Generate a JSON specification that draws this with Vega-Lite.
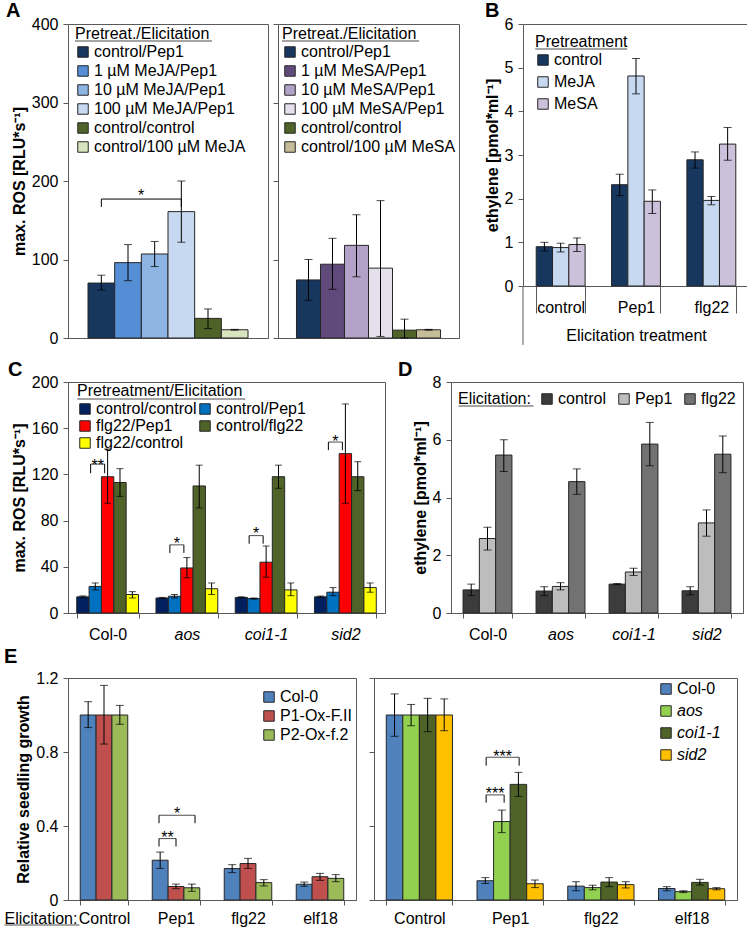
{
 "$schema": "https://vega.github.io/schema/vega-lite/v6.json",
 "autosize": {"type": "pad"},
 "padding": {"left": 3, "top": 0, "right": 0, "bottom": 0},
 "spacing": 0,
 "resolve": {"scale": {"fill": "independent"}, "legend": {"fill": "independent"}},
 "datasets": {
  "z": [{"a": 0}],
  "aL": [
   {"s": "control/Pep1", "v": 70, "lo": 61, "hi": 80},
   {"s": "1 µM MeJA/Pep1", "v": 96, "lo": 73, "hi": 119},
   {"s": "10 µM MeJA/Pep1", "v": 107, "lo": 91, "hi": 123},
   {"s": "100 µM MeJA/Pep1", "v": 161, "lo": 122, "hi": 200},
   {"s": "control/control", "v": 25, "lo": 12, "hi": 37},
   {"s": "control/100 µM MeJA", "v": 10.5, "lo": 10, "hi": 11}
  ],
  "aLb": [
   {"s": "control/Pep1", "y": 167, "o": 1},
   {"s": "control/Pep1", "y": 177, "o": 2},
   {"s": "100 µM MeJA/Pep1", "y": 177, "o": 3},
   {"s": "100 µM MeJA/Pep1", "y": 167, "o": 4}
  ],
  "aLs": [{"s": "1 µM MeJA/Pep1", "y": 174, "t": "*"}],
  "aR": [
   {"s": "control/Pep1", "v": 74, "lo": 48, "hi": 100},
   {"s": "1 µM MeSA/Pep1", "v": 94, "lo": 62, "hi": 127},
   {"s": "10 µM MeSA/Pep1", "v": 118, "lo": 78, "hi": 157},
   {"s": "100 µM MeSA/Pep1", "v": 89, "lo": 2, "hi": 175},
   {"s": "control/control", "v": 10, "lo": 0, "hi": 24},
   {"s": "control/100 µM MeSA", "v": 10.5, "lo": 10, "hi": 11}
  ],
  "b": [
   {"g": "control", "s": "control", "v": 0.9, "lo": 0.8, "hi": 1.0},
   {"g": "control", "s": "MeJA", "v": 0.88, "lo": 0.78, "hi": 0.98},
   {"g": "control", "s": "MeSA", "v": 0.95, "lo": 0.79, "hi": 1.1},
   {"g": "Pep1", "s": "control", "v": 2.32, "lo": 2.07, "hi": 2.56},
   {"g": "Pep1", "s": "MeJA", "v": 4.81, "lo": 4.4, "hi": 5.21},
   {"g": "Pep1", "s": "MeSA", "v": 1.94, "lo": 1.66, "hi": 2.2},
   {"g": "flg22", "s": "control", "v": 2.89, "lo": 2.7, "hi": 3.07},
   {"g": "flg22", "s": "MeJA", "v": 1.96, "lo": 1.86, "hi": 2.05},
   {"g": "flg22", "s": "MeSA", "v": 3.25, "lo": 2.88, "hi": 3.63}
  ],
  "c": [
   {"g": "Col-0", "s": "control/control", "v": 14, "lo": 13.2, "hi": 14.8},
   {"g": "Col-0", "s": "control/Pep1", "v": 23, "lo": 20, "hi": 26},
   {"g": "Col-0", "s": "flg22/Pep1", "v": 118, "lo": 95, "hi": 142},
   {"g": "Col-0", "s": "control/flg22", "v": 113, "lo": 101, "hi": 125},
   {"g": "Col-0", "s": "flg22/control", "v": 16, "lo": 13, "hi": 18.5},
   {"g": "aos", "s": "control/control", "v": 13, "lo": 12.5, "hi": 13.5},
   {"g": "aos", "s": "control/Pep1", "v": 14.5, "lo": 13, "hi": 16},
   {"g": "aos", "s": "flg22/Pep1", "v": 39, "lo": 30.5, "hi": 48},
   {"g": "aos", "s": "control/flg22", "v": 110, "lo": 91, "hi": 128},
   {"g": "aos", "s": "flg22/control", "v": 21, "lo": 16, "hi": 26},
   {"g": "coi1-1", "s": "control/control", "v": 13.5, "lo": 13, "hi": 14},
   {"g": "coi1-1", "s": "control/Pep1", "v": 12.5, "lo": 12, "hi": 13},
   {"g": "coi1-1", "s": "flg22/Pep1", "v": 44, "lo": 31, "hi": 58},
   {"g": "coi1-1", "s": "control/flg22", "v": 118, "lo": 108, "hi": 128},
   {"g": "coi1-1", "s": "flg22/control", "v": 20, "lo": 15, "hi": 26},
   {"g": "sid2", "s": "control/control", "v": 14, "lo": 13.3, "hi": 14.7},
   {"g": "sid2", "s": "control/Pep1", "v": 18, "lo": 15, "hi": 22},
   {"g": "sid2", "s": "flg22/Pep1", "v": 138, "lo": 95, "hi": 181},
   {"g": "sid2", "s": "control/flg22", "v": 118, "lo": 106, "hi": 131},
   {"g": "sid2", "s": "flg22/control", "v": 22, "lo": 18, "hi": 26}
  ],
  "cb": [
   {"g": "Col-0", "top": 129, "bot": 121, "ts": 123, "t": "**"},
   {"g": "aos", "top": 59, "bot": 52, "ts": 55.5, "t": "*"},
   {"g": "coi1-1", "top": 67, "bot": 60, "ts": 64.4, "t": "*"},
   {"g": "sid2", "top": 148, "bot": 141, "ts": 144, "t": "*"}
  ],
  "d": [
   {"g": "Col-0", "s": "control", "v": 0.8, "lo": 0.6, "hi": 1.0},
   {"g": "Col-0", "s": "Pep1", "v": 2.58, "lo": 2.18, "hi": 2.97},
   {"g": "Col-0", "s": "flg22", "v": 5.47, "lo": 4.9, "hi": 6.0},
   {"g": "aos", "s": "control", "v": 0.76, "lo": 0.6, "hi": 0.91},
   {"g": "aos", "s": "Pep1", "v": 0.92, "lo": 0.8, "hi": 1.05},
   {"g": "aos", "s": "flg22", "v": 4.55, "lo": 4.11, "hi": 4.99},
   {"g": "coi1-1", "s": "control", "v": 1.0, "lo": 0.98, "hi": 1.02},
   {"g": "coi1-1", "s": "Pep1", "v": 1.42, "lo": 1.3, "hi": 1.55},
   {"g": "coi1-1", "s": "flg22", "v": 5.85, "lo": 5.1, "hi": 6.6},
   {"g": "sid2", "s": "control", "v": 0.77, "lo": 0.63, "hi": 0.91},
   {"g": "sid2", "s": "Pep1", "v": 3.12, "lo": 2.66, "hi": 3.57},
   {"g": "sid2", "s": "flg22", "v": 5.5, "lo": 4.86, "hi": 6.13}
  ],
  "el": [
   {"g": "Control", "s": "Col-0", "v": 1.0, "lo": 0.932, "hi": 1.072},
   {"g": "Control", "s": "P1-Ox-F.II", "v": 1.0, "lo": 0.843, "hi": 1.16},
   {"g": "Control", "s": "P2-Ox-f.2", "v": 1.0, "lo": 0.95, "hi": 1.052},
   {"g": "Pep1", "s": "Col-0", "v": 0.215, "lo": 0.171, "hi": 0.259},
   {"g": "Pep1", "s": "P1-Ox-F.II", "v": 0.073, "lo": 0.061, "hi": 0.086},
   {"g": "Pep1", "s": "P2-Ox-f.2", "v": 0.066, "lo": 0.047, "hi": 0.086},
   {"g": "flg22", "s": "Col-0", "v": 0.17, "lo": 0.148, "hi": 0.191},
   {"g": "flg22", "s": "P1-Ox-F.II", "v": 0.197, "lo": 0.171, "hi": 0.225},
   {"g": "flg22", "s": "P2-Ox-f.2", "v": 0.094, "lo": 0.076, "hi": 0.11},
   {"g": "elf18", "s": "Col-0", "v": 0.085, "lo": 0.074, "hi": 0.097},
   {"g": "elf18", "s": "P1-Ox-F.II", "v": 0.126, "lo": 0.106, "hi": 0.144},
   {"g": "elf18", "s": "P2-Ox-f.2", "v": 0.117, "lo": 0.099, "hi": 0.137}
  ],
  "elb1": [{"g": "Pep1", "top": 0.332, "bot": 0.289, "ts": 0.306, "t": "**"}],
  "elb2": [{"g": "Pep1", "top": 0.458, "bot": 0.415, "ts": 0.438, "t": "*"}],
  "er": [
   {"g": "Control", "s": "Col-0", "v": 1.0, "lo": 0.885, "hi": 1.114},
   {"g": "Control", "s": "aos", "v": 1.0, "lo": 0.942, "hi": 1.057},
   {"g": "Control", "s": "coi1-1", "v": 1.0, "lo": 0.91, "hi": 1.09},
   {"g": "Control", "s": "sid2", "v": 1.0, "lo": 0.915, "hi": 1.087},
   {"g": "Pep1", "s": "Col-0", "v": 0.104, "lo": 0.089, "hi": 0.121},
   {"g": "Pep1", "s": "aos", "v": 0.424, "lo": 0.364, "hi": 0.486},
   {"g": "Pep1", "s": "coi1-1", "v": 0.625, "lo": 0.56, "hi": 0.69},
   {"g": "Pep1", "s": "sid2", "v": 0.088, "lo": 0.067, "hi": 0.108},
   {"g": "flg22", "s": "Col-0", "v": 0.075, "lo": 0.05, "hi": 0.099},
   {"g": "flg22", "s": "aos", "v": 0.067, "lo": 0.055, "hi": 0.08},
   {"g": "flg22", "s": "coi1-1", "v": 0.097, "lo": 0.072, "hi": 0.121},
   {"g": "flg22", "s": "sid2", "v": 0.083, "lo": 0.065, "hi": 0.099},
   {"g": "elf18", "s": "Col-0", "v": 0.062, "lo": 0.05, "hi": 0.072},
   {"g": "elf18", "s": "aos", "v": 0.045, "lo": 0.04, "hi": 0.05},
   {"g": "elf18", "s": "coi1-1", "v": 0.095, "lo": 0.081, "hi": 0.112},
   {"g": "elf18", "s": "sid2", "v": 0.061, "lo": 0.055, "hi": 0.067}
  ],
  "erb1": [{"g": "Pep1", "top": 0.568, "bot": 0.526, "ts": 0.546, "t": "***"}],
  "erb2": [{"g": "Pep1", "top": 0.771, "bot": 0.726, "ts": 0.744, "t": "***"}]
 },
 "vconcat": [
  {
   "bounds": "flush", "spacing": 0,
   "resolve": {"scale": {"fill": "independent"}, "legend": {"fill": "independent"}},
   "hconcat": [
    {
     "width": 200, "height": 314,
     "title": {"text": "A", "dx": -62, "offset": -5},
     "encoding": {"x": {"field": "s", "type": "nominal", "scale": {"type": "band", "domain": ["control/Pep1", "1 µM MeJA/Pep1", "10 µM MeJA/Pep1", "100 µM MeJA/Pep1", "control/control", "control/100 µM MeJA"], "paddingInner": 0, "paddingOuter": 0.75}, "axis": {"labels": false, "ticks": false, "title": null}}},
     "layer": [
      {"data": {"name": "aL"}, "mark": {"type": "bar", "stroke": "#262626", "strokeWidth": 1},
       "encoding": {
        "y": {"field": "v", "type": "quantitative", "scale": {"domain": [0, 400], "nice": false}, "axis": {"values": [0, 100, 200, 300, 400], "title": "max. ROS [RLU*s⁻¹]", "titlePadding": 4}},
        "fill": {"field": "s", "type": "nominal", "scale": {"domain": ["control/Pep1", "1 µM MeJA/Pep1", "10 µM MeJA/Pep1", "100 µM MeJA/Pep1", "control/control", "control/100 µM MeJA"], "range": ["#17375E", "#558ED5", "#8EB4E3", "#C6D9F1", "#4F6228", "#D7E4BD"]},
         "legend": {"title": "Pretreat./Elicitation", "orient": "none", "legendX": 7, "legendY": 2, "rowPadding": 3}}}},
      {"data": {"name": "aL"}, "mark": {"type": "rule", "color": "#000"}, "encoding": {"y": {"field": "lo", "type": "quantitative"}, "y2": {"field": "hi"}}},
      {"data": {"name": "aL"}, "transform": [{"fold": ["lo", "hi"], "as": ["k", "e"]}], "mark": {"type": "tick", "color": "#000", "size": 8, "thickness": 1}, "encoding": {"y": {"field": "e", "type": "quantitative"}}},
      {"data": {"name": "aLb"}, "mark": {"type": "line", "color": "#000", "strokeWidth": 1}, "encoding": {"y": {"field": "y", "type": "quantitative"}, "order": {"field": "o", "type": "quantitative"}}},
      {"data": {"name": "aLs"}, "mark": {"type": "text", "dx": 13, "fontSize": 16, "baseline": "alphabetic"}, "encoding": {"y": {"field": "y", "type": "quantitative"}, "text": {"field": "t"}}},
      {"data": {"name": "z"}, "mark": {"type": "tick", "color": "#000", "size": 137, "thickness": 1, "xOffset": -11.2}, "encoding": {"x": {"datum": "10 µM MeJA/Pep1"}, "y": {"datum": 378.3, "type": "quantitative", "scale": {"domain": [0, 400], "nice": false}}}}
     ]
    },
    {"width": 10, "height": 1, "data": {"name": "z"}, "mark": {"type": "point", "opacity": 0, "size": 1}, "encoding": {}, "view": {"stroke": null}},
    {
     "width": 181, "height": 314,
     "encoding": {"x": {"field": "s", "type": "nominal", "scale": {"type": "band", "domain": ["control/Pep1", "1 µM MeSA/Pep1", "10 µM MeSA/Pep1", "100 µM MeSA/Pep1", "control/control", "control/100 µM MeSA"], "paddingInner": 0, "paddingOuter": 0.77}, "axis": {"labels": false, "ticks": false, "title": null}}},
     "layer": [
      {"data": {"name": "aR"}, "mark": {"type": "bar", "stroke": "#262626", "strokeWidth": 1},
       "encoding": {
        "y": {"field": "v", "type": "quantitative", "scale": {"domain": [0, 400], "nice": false}, "axis": {"values": [0, 100, 200, 300, 400], "labels": false, "title": null}},
        "fill": {"field": "s", "type": "nominal", "scale": {"domain": ["control/Pep1", "1 µM MeSA/Pep1", "10 µM MeSA/Pep1", "100 µM MeSA/Pep1", "control/control", "control/100 µM MeSA"], "range": ["#17375E", "#604A7B", "#B3A2C7", "#E6E0EC", "#4F6228", "#C4BD97"]},
         "legend": {"title": "Pretreat./Elicitation", "orient": "none", "legendX": 4, "legendY": 2, "rowPadding": 3}}}},
      {"data": {"name": "aR"}, "mark": {"type": "rule", "color": "#000"}, "encoding": {"y": {"field": "lo", "type": "quantitative"}, "y2": {"field": "hi"}}},
      {"data": {"name": "aR"}, "transform": [{"fold": ["lo", "hi"], "as": ["k", "e"]}], "mark": {"type": "tick", "color": "#000", "size": 8, "thickness": 1}, "encoding": {"y": {"field": "e", "type": "quantitative"}}},
      {"data": {"name": "z"}, "mark": {"type": "tick", "color": "#000", "size": 137, "thickness": 1, "xOffset": -6}, "encoding": {"x": {"datum": "10 µM MeSA/Pep1"}, "y": {"datum": 378.3, "type": "quantitative", "scale": {"domain": [0, 400], "nice": false}}}}
     ]
    },
    {"width": 64, "height": 1, "data": {"name": "z"}, "mark": {"type": "point", "opacity": 0, "size": 1}, "encoding": {}, "view": {"stroke": null}},
    {
     "width": 226, "height": 262,
     "title": {"text": "B", "dx": -38, "offset": -5},
     "encoding": {
      "x": {"field": "g", "type": "nominal", "scale": {"type": "band", "domain": ["control", "Pep1", "flg22"], "paddingInner": 0.35, "paddingOuter": 0.175},
       "axis": {"title": "Elicitation treatment", "titleFontWeight": "normal", "tickBand": "extent", "tickSize": 27, "labelPadding": -14, "labelAngle": 0, "titleY": 49, "titleBaseline": "middle"}}
     },
     "layer": [
      {"data": {"name": "b"}, "transform": [{"filter": "datum.s == 'control'"}], "mark": {"type": "bar", "width": 16.3, "xOffset": -16.3, "stroke": "#262626", "strokeWidth": 1},
       "encoding": {
        "y": {"field": "v", "type": "quantitative", "scale": {"domain": [0, 6], "nice": false}, "axis": {"values": [0, 1, 2, 3, 4, 5, 6], "title": "ethylene [pmol*ml⁻¹]", "titlePadding": 4}},
        "fill": {"field": "s", "type": "nominal", "scale": {"domain": ["control", "MeJA", "MeSA"], "range": ["#17375E", "#C6D9F1", "#CCC1DA"]}, "legend": {"title": "Pretreatment", "orient": "none", "legendX": 12, "legendY": 10, "rowPadding": 6}}}},
      {"data": {"name": "b"}, "transform": [{"filter": "datum.s == 'MeJA'"}], "mark": {"type": "bar", "width": 16.3, "xOffset": 0, "stroke": "#262626", "strokeWidth": 1},
       "encoding": {"y": {"field": "v", "type": "quantitative"}, "fill": {"field": "s", "type": "nominal", "scale": {"domain": ["control", "MeJA", "MeSA"], "range": ["#17375E", "#C6D9F1", "#CCC1DA"]}, "legend": {"title": "Pretreatment", "orient": "none", "legendX": 12, "legendY": 10, "rowPadding": 6}}}},
      {"data": {"name": "b"}, "transform": [{"filter": "datum.s == 'MeSA'"}], "mark": {"type": "bar", "width": 16.3, "xOffset": 16.3, "stroke": "#262626", "strokeWidth": 1},
       "encoding": {"y": {"field": "v", "type": "quantitative"}, "fill": {"field": "s", "type": "nominal", "scale": {"domain": ["control", "MeJA", "MeSA"], "range": ["#17375E", "#C6D9F1", "#CCC1DA"]}, "legend": {"title": "Pretreatment", "orient": "none", "legendX": 12, "legendY": 10, "rowPadding": 6}}}},
      {"data": {"name": "b"}, "transform": [{"filter": "datum.s == 'control'"}], "mark": {"type": "rule", "color": "#000", "xOffset": -16.3}, "encoding": {"y": {"field": "lo", "type": "quantitative"}, "y2": {"field": "hi"}}},
      {"data": {"name": "b"}, "transform": [{"filter": "datum.s == 'MeJA'"}], "mark": {"type": "rule", "color": "#000", "xOffset": 0}, "encoding": {"y": {"field": "lo", "type": "quantitative"}, "y2": {"field": "hi"}}},
      {"data": {"name": "b"}, "transform": [{"filter": "datum.s == 'MeSA'"}], "mark": {"type": "rule", "color": "#000", "xOffset": 16.3}, "encoding": {"y": {"field": "lo", "type": "quantitative"}, "y2": {"field": "hi"}}},
      {"data": {"name": "b"}, "transform": [{"filter": "datum.s == 'control'"}, {"fold": ["lo", "hi"], "as": ["k", "e"]}], "mark": {"type": "tick", "color": "#000", "size": 8, "thickness": 1, "xOffset": -16.3}, "encoding": {"y": {"field": "e", "type": "quantitative"}}},
      {"data": {"name": "b"}, "transform": [{"filter": "datum.s == 'MeJA'"}, {"fold": ["lo", "hi"], "as": ["k", "e"]}], "mark": {"type": "tick", "color": "#000", "size": 8, "thickness": 1, "xOffset": 0}, "encoding": {"y": {"field": "e", "type": "quantitative"}}},
      {"data": {"name": "b"}, "transform": [{"filter": "datum.s == 'MeSA'"}, {"fold": ["lo", "hi"], "as": ["k", "e"]}], "mark": {"type": "tick", "color": "#000", "size": 8, "thickness": 1, "xOffset": 16.3}, "encoding": {"y": {"field": "e", "type": "quantitative"}}},
      {"data": {"name": "z"}, "mark": {"type": "tick", "color": "#000", "size": 92, "thickness": 1, "xOffset": 20.6}, "encoding": {"x": {"datum": "control"}, "y": {"datum": 5.43, "type": "quantitative", "scale": {"domain": [0, 6], "nice": false}}}},
      {"data": {"name": "z"}, "mark": {"type": "rule", "color": "#5a5a5a", "xOffset": -37.67}, "encoding": {"x": {"datum": "control"}, "y": {"datum": 0, "type": "quantitative", "scale": {"domain": [0, 6], "nice": false}}, "y2": {"datum": -1.35}}},
      {"data": {"name": "z"}, "mark": {"type": "rule", "color": "#5a5a5a", "xOffset": 37.67}, "encoding": {"x": {"datum": "flg22"}, "y": {"datum": 0, "type": "quantitative", "scale": {"domain": [0, 6], "nice": false}}, "y2": {"datum": -1.35}}}
     ]
    }
   ]
  },
  {"width": 1, "height": 12, "data": {"name": "z"}, "mark": {"type": "point", "opacity": 0, "size": 1}, "encoding": {}, "view": {"stroke": null}},
  {
   "bounds": "flush", "spacing": 0,
   "resolve": {"scale": {"fill": "independent"}, "legend": {"fill": "independent"}},
   "hconcat": [
    {
     "width": 317, "height": 231,
     "title": {"text": "C", "dx": -60, "offset": -6},
     "encoding": {
      "x": {"field": "g", "type": "nominal", "scale": {"type": "band", "domain": ["Col-0", "aos", "coi1-1", "sid2"], "paddingInner": 0.22, "paddingOuter": 0.11},
       "axis": {"title": null, "tickBand": "extent", "labelPadding": 8, "labelAngle": 0, "labelFontStyle": {"condition": {"test": "datum.value == 'Col-0'", "value": "normal"}, "value": "italic"}}}
     },
     "layer": [
      {"data": {"name": "c"}, "transform": [{"filter": "datum.s == 'control/control'"}], "mark": {"type": "bar", "width": 12.36, "xOffset": -24.72, "stroke": "#262626", "strokeWidth": 1},
       "encoding": {
        "y": {"field": "v", "type": "quantitative", "scale": {"domain": [0, 200], "nice": false}, "axis": {"values": [0, 40, 80, 120, 160, 200], "title": "max. ROS [RLU*s⁻¹]", "titlePadding": 4}},
        "fill": {"field": "s", "type": "nominal", "scale": {"domain": ["control/control", "flg22/Pep1", "flg22/control", "control/Pep1", "control/flg22"], "range": ["#002060", "#FF0000", "#FFFF00", "#0070C0", "#4F6228"]}, "legend": {"title": "Pretreatment/Elicitation", "orient": "none", "legendX": 9, "legendY": 1, "columns": 2, "columnPadding": -10, "rowPadding": 1}}}},
      {"data": {"name": "c"}, "transform": [{"filter": "datum.s == 'control/Pep1'"}], "mark": {"type": "bar", "width": 12.36, "xOffset": -12.36, "stroke": "#262626", "strokeWidth": 1},
       "encoding": {"y": {"field": "v", "type": "quantitative"}, "fill": {"field": "s", "type": "nominal", "scale": {"domain": ["control/control", "flg22/Pep1", "flg22/control", "control/Pep1", "control/flg22"], "range": ["#002060", "#FF0000", "#FFFF00", "#0070C0", "#4F6228"]}, "legend": {"title": "Pretreatment/Elicitation", "orient": "none", "legendX": 9, "legendY": 1, "columns": 2, "columnPadding": -10, "rowPadding": 1}}}},
      {"data": {"name": "c"}, "transform": [{"filter": "datum.s == 'flg22/Pep1'"}], "mark": {"type": "bar", "width": 12.36, "xOffset": 0, "stroke": "#262626", "strokeWidth": 1},
       "encoding": {"y": {"field": "v", "type": "quantitative"}, "fill": {"field": "s", "type": "nominal", "scale": {"domain": ["control/control", "flg22/Pep1", "flg22/control", "control/Pep1", "control/flg22"], "range": ["#002060", "#FF0000", "#FFFF00", "#0070C0", "#4F6228"]}, "legend": {"title": "Pretreatment/Elicitation", "orient": "none", "legendX": 9, "legendY": 1, "columns": 2, "columnPadding": -10, "rowPadding": 1}}}},
      {"data": {"name": "c"}, "transform": [{"filter": "datum.s == 'control/flg22'"}], "mark": {"type": "bar", "width": 12.36, "xOffset": 12.36, "stroke": "#262626", "strokeWidth": 1},
       "encoding": {"y": {"field": "v", "type": "quantitative"}, "fill": {"field": "s", "type": "nominal", "scale": {"domain": ["control/control", "flg22/Pep1", "flg22/control", "control/Pep1", "control/flg22"], "range": ["#002060", "#FF0000", "#FFFF00", "#0070C0", "#4F6228"]}, "legend": {"title": "Pretreatment/Elicitation", "orient": "none", "legendX": 9, "legendY": 1, "columns": 2, "columnPadding": -10, "rowPadding": 1}}}},
      {"data": {"name": "c"}, "transform": [{"filter": "datum.s == 'flg22/control'"}], "mark": {"type": "bar", "width": 12.36, "xOffset": 24.72, "stroke": "#262626", "strokeWidth": 1},
       "encoding": {"y": {"field": "v", "type": "quantitative"}, "fill": {"field": "s", "type": "nominal", "scale": {"domain": ["control/control", "flg22/Pep1", "flg22/control", "control/Pep1", "control/flg22"], "range": ["#002060", "#FF0000", "#FFFF00", "#0070C0", "#4F6228"]}, "legend": {"title": "Pretreatment/Elicitation", "orient": "none", "legendX": 9, "legendY": 1, "columns": 2, "columnPadding": -10, "rowPadding": 1}}}},
      {"data": {"name": "c"}, "transform": [{"filter": "datum.s == 'control/control'"}], "mark": {"type": "rule", "color": "#000", "xOffset": -24.72}, "encoding": {"y": {"field": "lo", "type": "quantitative"}, "y2": {"field": "hi"}}},
      {"data": {"name": "c"}, "transform": [{"filter": "datum.s == 'control/Pep1'"}], "mark": {"type": "rule", "color": "#000", "xOffset": -12.36}, "encoding": {"y": {"field": "lo", "type": "quantitative"}, "y2": {"field": "hi"}}},
      {"data": {"name": "c"}, "transform": [{"filter": "datum.s == 'flg22/Pep1'"}], "mark": {"type": "rule", "color": "#000", "xOffset": 0}, "encoding": {"y": {"field": "lo", "type": "quantitative"}, "y2": {"field": "hi"}}},
      {"data": {"name": "c"}, "transform": [{"filter": "datum.s == 'control/flg22'"}], "mark": {"type": "rule", "color": "#000", "xOffset": 12.36}, "encoding": {"y": {"field": "lo", "type": "quantitative"}, "y2": {"field": "hi"}}},
      {"data": {"name": "c"}, "transform": [{"filter": "datum.s == 'flg22/control'"}], "mark": {"type": "rule", "color": "#000", "xOffset": 24.72}, "encoding": {"y": {"field": "lo", "type": "quantitative"}, "y2": {"field": "hi"}}},
      {"data": {"name": "c"}, "transform": [{"filter": "datum.s == 'control/control'"}, {"fold": ["lo", "hi"], "as": ["k", "e"]}], "mark": {"type": "tick", "color": "#000", "size": 7, "thickness": 1, "xOffset": -24.72}, "encoding": {"y": {"field": "e", "type": "quantitative"}}},
      {"data": {"name": "c"}, "transform": [{"filter": "datum.s == 'control/Pep1'"}, {"fold": ["lo", "hi"], "as": ["k", "e"]}], "mark": {"type": "tick", "color": "#000", "size": 7, "thickness": 1, "xOffset": -12.36}, "encoding": {"y": {"field": "e", "type": "quantitative"}}},
      {"data": {"name": "c"}, "transform": [{"filter": "datum.s == 'flg22/Pep1'"}, {"fold": ["lo", "hi"], "as": ["k", "e"]}], "mark": {"type": "tick", "color": "#000", "size": 7, "thickness": 1, "xOffset": 0}, "encoding": {"y": {"field": "e", "type": "quantitative"}}},
      {"data": {"name": "c"}, "transform": [{"filter": "datum.s == 'control/flg22'"}, {"fold": ["lo", "hi"], "as": ["k", "e"]}], "mark": {"type": "tick", "color": "#000", "size": 7, "thickness": 1, "xOffset": 12.36}, "encoding": {"y": {"field": "e", "type": "quantitative"}}},
      {"data": {"name": "c"}, "transform": [{"filter": "datum.s == 'flg22/control'"}, {"fold": ["lo", "hi"], "as": ["k", "e"]}], "mark": {"type": "tick", "color": "#000", "size": 7, "thickness": 1, "xOffset": 24.72}, "encoding": {"y": {"field": "e", "type": "quantitative"}}},
      {"data": {"name": "cb"}, "mark": {"type": "tick", "color": "#000", "size": 14, "thickness": 1, "xOffset": -10}, "encoding": {"y": {"field": "top", "type": "quantitative"}}},
      {"data": {"name": "cb"}, "mark": {"type": "rule", "color": "#000", "xOffset": -17}, "encoding": {"y": {"field": "bot", "type": "quantitative"}, "y2": {"field": "top"}}},
      {"data": {"name": "cb"}, "mark": {"type": "rule", "color": "#000", "xOffset": -3}, "encoding": {"y": {"field": "bot", "type": "quantitative"}, "y2": {"field": "top"}}},
      {"data": {"name": "cb"}, "mark": {"type": "text", "dx": -10, "fontSize": 16, "baseline": "alphabetic"}, "encoding": {"y": {"field": "ts", "type": "quantitative"}, "text": {"field": "t"}}},
      {"data": {"name": "z"}, "mark": {"type": "tick", "color": "#000", "size": 168, "thickness": 1, "xOffset": -25.6}, "encoding": {"x": {"datum": "aos"}, "y": {"datum": 185.3, "type": "quantitative", "scale": {"domain": [0, 200], "nice": false}}}}
     ]
    },
    {"width": 66, "height": 1, "data": {"name": "z"}, "mark": {"type": "point", "opacity": 0, "size": 1}, "encoding": {}, "view": {"stroke": null}},
    {
     "width": 292, "height": 231,
     "title": {"text": "D", "dx": -53, "offset": -6},
     "encoding": {
      "x": {"field": "g", "type": "nominal", "scale": {"type": "band", "domain": ["Col-0", "aos", "coi1-1", "sid2"], "paddingInner": 0.33, "paddingOuter": 0.165},
       "axis": {"title": null, "tickBand": "extent", "labelPadding": 8, "labelAngle": 0, "labelFontStyle": {"condition": {"test": "datum.value == 'Col-0'", "value": "normal"}, "value": "italic"}}}
     },
     "layer": [
      {"data": {"name": "d"}, "transform": [{"filter": "datum.s == 'control'"}], "mark": {"type": "bar", "width": 16.3, "xOffset": -16.3, "stroke": "#262626", "strokeWidth": 1},
       "encoding": {
        "y": {"field": "v", "type": "quantitative", "scale": {"domain": [0, 8], "nice": false}, "axis": {"values": [0, 2, 4, 6, 8], "title": "ethylene [pmol*ml⁻¹]", "titlePadding": 4}},
        "fill": {"field": "s", "type": "nominal", "scale": {"domain": ["control", "Pep1", "flg22"], "range": ["#3C3C3C", "#BDBDBD", "#727272"]}, "legend": {"title": "Elicitation:", "orient": "none", "legendX": 7, "legendY": 9, "direction": "horizontal", "titleOrient": "left", "columnPadding": 9, "titlePadding": 8}}}},
      {"data": {"name": "d"}, "transform": [{"filter": "datum.s == 'Pep1'"}], "mark": {"type": "bar", "width": 16.3, "xOffset": 0, "stroke": "#262626", "strokeWidth": 1},
       "encoding": {"y": {"field": "v", "type": "quantitative"}, "fill": {"field": "s", "type": "nominal", "scale": {"domain": ["control", "Pep1", "flg22"], "range": ["#3C3C3C", "#BDBDBD", "#727272"]}, "legend": {"title": "Elicitation:", "orient": "none", "legendX": 7, "legendY": 9, "direction": "horizontal", "titleOrient": "left", "columnPadding": 9, "titlePadding": 8}}}},
      {"data": {"name": "d"}, "transform": [{"filter": "datum.s == 'flg22'"}], "mark": {"type": "bar", "width": 16.3, "xOffset": 16.3, "stroke": "#262626", "strokeWidth": 1},
       "encoding": {"y": {"field": "v", "type": "quantitative"}, "fill": {"field": "s", "type": "nominal", "scale": {"domain": ["control", "Pep1", "flg22"], "range": ["#3C3C3C", "#BDBDBD", "#727272"]}, "legend": {"title": "Elicitation:", "orient": "none", "legendX": 7, "legendY": 9, "direction": "horizontal", "titleOrient": "left", "columnPadding": 9, "titlePadding": 8}}}},
      {"data": {"name": "d"}, "transform": [{"filter": "datum.s == 'control'"}], "mark": {"type": "rule", "color": "#000", "xOffset": -16.3}, "encoding": {"y": {"field": "lo", "type": "quantitative"}, "y2": {"field": "hi"}}},
      {"data": {"name": "d"}, "transform": [{"filter": "datum.s == 'Pep1'"}], "mark": {"type": "rule", "color": "#000", "xOffset": 0}, "encoding": {"y": {"field": "lo", "type": "quantitative"}, "y2": {"field": "hi"}}},
      {"data": {"name": "d"}, "transform": [{"filter": "datum.s == 'flg22'"}], "mark": {"type": "rule", "color": "#000", "xOffset": 16.3}, "encoding": {"y": {"field": "lo", "type": "quantitative"}, "y2": {"field": "hi"}}},
      {"data": {"name": "d"}, "transform": [{"filter": "datum.s == 'control'"}, {"fold": ["lo", "hi"], "as": ["k", "e"]}], "mark": {"type": "tick", "color": "#000", "size": 8, "thickness": 1, "xOffset": -16.3}, "encoding": {"y": {"field": "e", "type": "quantitative"}}},
      {"data": {"name": "d"}, "transform": [{"filter": "datum.s == 'Pep1'"}, {"fold": ["lo", "hi"], "as": ["k", "e"]}], "mark": {"type": "tick", "color": "#000", "size": 8, "thickness": 1, "xOffset": 0}, "encoding": {"y": {"field": "e", "type": "quantitative"}}},
      {"data": {"name": "d"}, "transform": [{"filter": "datum.s == 'flg22'"}, {"fold": ["lo", "hi"], "as": ["k", "e"]}], "mark": {"type": "tick", "color": "#000", "size": 8, "thickness": 1, "xOffset": 16.3}, "encoding": {"y": {"field": "e", "type": "quantitative"}}},
      {"data": {"name": "z"}, "mark": {"type": "tick", "color": "#000", "size": 75, "thickness": 1, "xOffset": 8.5}, "encoding": {"x": {"datum": "Col-0"}, "y": {"datum": 7.17, "type": "quantitative", "scale": {"domain": [0, 8], "nice": false}}}}
     ]
    }
   ]
  },
  {"width": 1, "height": 3, "data": {"name": "z"}, "mark": {"type": "point", "opacity": 0, "size": 1}, "encoding": {}, "view": {"stroke": null}},
  {
   "bounds": "flush", "spacing": 0,
   "resolve": {"scale": {"fill": "independent"}, "legend": {"fill": "independent"}},
   "hconcat": [
    {
     "width": 288, "height": 222,
     "title": {"text": "E", "dx": -64, "offset": 3},
     "encoding": {
      "x": {"field": "g", "type": "nominal", "scale": {"type": "band", "domain": ["Control", "Pep1", "flg22", "elf18"], "paddingInner": 0.34, "paddingOuter": 0.17},
       "axis": {"title": "Elicitation:", "titleFontWeight": "normal", "titleX": -64, "titleY": 10, "titleAlign": "left", "titleBaseline": "top", "titleAnchor": "start", "tickBand": "extent", "labelPadding": 5, "labelAngle": 0}}
     },
     "layer": [
      {"data": {"name": "el"}, "transform": [{"filter": "datum.s == 'Col-0'"}], "mark": {"type": "bar", "width": 15.84, "xOffset": -15.84, "stroke": "#262626", "strokeWidth": 1},
       "encoding": {
        "y": {"field": "v", "type": "quantitative", "scale": {"domain": [0, 1.2], "nice": false}, "axis": {"values": [0, 0.2, 0.4, 0.6, 0.8, 1, 1.2], "format": ".1~f", "title": "Relative seedling growth", "titlePadding": 4}},
        "fill": {"field": "s", "type": "nominal", "scale": {"domain": ["Col-0", "P1-Ox-F.II", "P2-Ox-f.2"], "range": ["#4F81BD", "#C0504D", "#9BBB59"]}, "legend": {"title": null, "orient": "none", "legendX": 193, "legendY": 11, "rowPadding": 3}}}},
      {"data": {"name": "el"}, "transform": [{"filter": "datum.s == 'P1-Ox-F.II'"}], "mark": {"type": "bar", "width": 15.84, "xOffset": 0, "stroke": "#262626", "strokeWidth": 1},
       "encoding": {"y": {"field": "v", "type": "quantitative"}, "fill": {"field": "s", "type": "nominal", "scale": {"domain": ["Col-0", "P1-Ox-F.II", "P2-Ox-f.2"], "range": ["#4F81BD", "#C0504D", "#9BBB59"]}, "legend": {"title": null, "orient": "none", "legendX": 193, "legendY": 11, "rowPadding": 3}}}},
      {"data": {"name": "el"}, "transform": [{"filter": "datum.s == 'P2-Ox-f.2'"}], "mark": {"type": "bar", "width": 15.84, "xOffset": 15.84, "stroke": "#262626", "strokeWidth": 1},
       "encoding": {"y": {"field": "v", "type": "quantitative"}, "fill": {"field": "s", "type": "nominal", "scale": {"domain": ["Col-0", "P1-Ox-F.II", "P2-Ox-f.2"], "range": ["#4F81BD", "#C0504D", "#9BBB59"]}, "legend": {"title": null, "orient": "none", "legendX": 193, "legendY": 11, "rowPadding": 3}}}},
      {"data": {"name": "el"}, "transform": [{"filter": "datum.s == 'Col-0'"}], "mark": {"type": "rule", "color": "#000", "xOffset": -15.84}, "encoding": {"y": {"field": "lo", "type": "quantitative"}, "y2": {"field": "hi"}}},
      {"data": {"name": "el"}, "transform": [{"filter": "datum.s == 'P1-Ox-F.II'"}], "mark": {"type": "rule", "color": "#000", "xOffset": 0}, "encoding": {"y": {"field": "lo", "type": "quantitative"}, "y2": {"field": "hi"}}},
      {"data": {"name": "el"}, "transform": [{"filter": "datum.s == 'P2-Ox-f.2'"}], "mark": {"type": "rule", "color": "#000", "xOffset": 15.84}, "encoding": {"y": {"field": "lo", "type": "quantitative"}, "y2": {"field": "hi"}}},
      {"data": {"name": "el"}, "transform": [{"filter": "datum.s == 'Col-0'"}, {"fold": ["lo", "hi"], "as": ["k", "e"]}], "mark": {"type": "tick", "color": "#000", "size": 8, "thickness": 1, "xOffset": -15.84}, "encoding": {"y": {"field": "e", "type": "quantitative"}}},
      {"data": {"name": "el"}, "transform": [{"filter": "datum.s == 'P1-Ox-F.II'"}, {"fold": ["lo", "hi"], "as": ["k", "e"]}], "mark": {"type": "tick", "color": "#000", "size": 8, "thickness": 1, "xOffset": 0}, "encoding": {"y": {"field": "e", "type": "quantitative"}}},
      {"data": {"name": "el"}, "transform": [{"filter": "datum.s == 'P2-Ox-f.2'"}, {"fold": ["lo", "hi"], "as": ["k", "e"]}], "mark": {"type": "tick", "color": "#000", "size": 8, "thickness": 1, "xOffset": 15.84}, "encoding": {"y": {"field": "e", "type": "quantitative"}}},
      {"data": {"name": "elb1"}, "mark": {"type": "tick", "color": "#000", "size": 17, "thickness": 1, "xOffset": -8.5}, "encoding": {"y": {"field": "top", "type": "quantitative"}}},
      {"data": {"name": "elb1"}, "mark": {"type": "rule", "color": "#000", "xOffset": -17}, "encoding": {"y": {"field": "bot", "type": "quantitative"}, "y2": {"field": "top"}}},
      {"data": {"name": "elb1"}, "mark": {"type": "rule", "color": "#000", "xOffset": 0}, "encoding": {"y": {"field": "bot", "type": "quantitative"}, "y2": {"field": "top"}}},
      {"data": {"name": "elb1"}, "mark": {"type": "text", "dx": -8.5, "fontSize": 16, "baseline": "alphabetic"}, "encoding": {"y": {"field": "ts", "type": "quantitative"}, "text": {"field": "t"}}},
      {"data": {"name": "elb2"}, "mark": {"type": "tick", "color": "#000", "size": 36, "thickness": 1, "xOffset": 1}, "encoding": {"y": {"field": "top", "type": "quantitative"}}},
      {"data": {"name": "elb2"}, "mark": {"type": "rule", "color": "#000", "xOffset": -17}, "encoding": {"y": {"field": "bot", "type": "quantitative"}, "y2": {"field": "top"}}},
      {"data": {"name": "elb2"}, "mark": {"type": "rule", "color": "#000", "xOffset": 19}, "encoding": {"y": {"field": "bot", "type": "quantitative"}, "y2": {"field": "top"}}},
      {"data": {"name": "elb2"}, "mark": {"type": "text", "dx": 1, "fontSize": 16, "baseline": "alphabetic"}, "encoding": {"y": {"field": "ts", "type": "quantitative"}, "text": {"field": "t"}}},
      {"data": {"name": "z"}, "mark": {"type": "tick", "color": "#000", "size": 75, "thickness": 1, "xOffset": -62}, "encoding": {"x": {"datum": "Control"}, "y": {"datum": -0.135, "type": "quantitative", "scale": {"domain": [0, 1.2], "nice": false}}}}
     ]
    },
    {"width": 18, "height": 1, "data": {"name": "z"}, "mark": {"type": "point", "opacity": 0, "size": 1}, "encoding": {}, "view": {"stroke": null}},
    {
     "width": 363, "height": 222,
     "encoding": {
      "x": {"field": "g", "type": "nominal", "scale": {"type": "band", "domain": ["Control", "Pep1", "flg22", "elf18"], "paddingInner": 0.27, "paddingOuter": 0.135},
       "axis": {"title": null, "tickBand": "extent", "labelPadding": 5, "labelAngle": 0}}
     },
     "layer": [
      {"data": {"name": "er"}, "transform": [{"filter": "datum.s == 'Col-0'"}], "mark": {"type": "bar", "width": 16.56, "xOffset": -24.84, "stroke": "#262626", "strokeWidth": 1},
       "encoding": {
        "y": {"field": "v", "type": "quantitative", "scale": {"domain": [0, 1.2], "nice": false}, "axis": {"values": [0, 0.2, 0.4, 0.6, 0.8, 1, 1.2], "labels": false, "title": null}},
        "fill": {"field": "s", "type": "nominal", "scale": {"domain": ["Col-0", "aos", "coi1-1", "sid2"], "range": ["#4F81BD", "#92D050", "#4F6228", "#FFC000"]}, "legend": {"title": null, "orient": "none", "legendX": 284, "legendY": 3, "rowPadding": 6, "encode": {"labels": {"update": {"fontStyle": {"signal": "datum.label === 'Col-0' ? 'normal' : 'italic'"}}}}}}}},
      {"data": {"name": "er"}, "transform": [{"filter": "datum.s == 'aos'"}], "mark": {"type": "bar", "width": 16.56, "xOffset": -8.28, "stroke": "#262626", "strokeWidth": 1},
       "encoding": {"y": {"field": "v", "type": "quantitative"}, "fill": {"field": "s", "type": "nominal", "scale": {"domain": ["Col-0", "aos", "coi1-1", "sid2"], "range": ["#4F81BD", "#92D050", "#4F6228", "#FFC000"]}, "legend": {"title": null, "orient": "none", "legendX": 284, "legendY": 3, "rowPadding": 6, "encode": {"labels": {"update": {"fontStyle": {"signal": "datum.label === 'Col-0' ? 'normal' : 'italic'"}}}}}}}},
      {"data": {"name": "er"}, "transform": [{"filter": "datum.s == 'coi1-1'"}], "mark": {"type": "bar", "width": 16.56, "xOffset": 8.28, "stroke": "#262626", "strokeWidth": 1},
       "encoding": {"y": {"field": "v", "type": "quantitative"}, "fill": {"field": "s", "type": "nominal", "scale": {"domain": ["Col-0", "aos", "coi1-1", "sid2"], "range": ["#4F81BD", "#92D050", "#4F6228", "#FFC000"]}, "legend": {"title": null, "orient": "none", "legendX": 284, "legendY": 3, "rowPadding": 6, "encode": {"labels": {"update": {"fontStyle": {"signal": "datum.label === 'Col-0' ? 'normal' : 'italic'"}}}}}}}},
      {"data": {"name": "er"}, "transform": [{"filter": "datum.s == 'sid2'"}], "mark": {"type": "bar", "width": 16.56, "xOffset": 24.84, "stroke": "#262626", "strokeWidth": 1},
       "encoding": {"y": {"field": "v", "type": "quantitative"}, "fill": {"field": "s", "type": "nominal", "scale": {"domain": ["Col-0", "aos", "coi1-1", "sid2"], "range": ["#4F81BD", "#92D050", "#4F6228", "#FFC000"]}, "legend": {"title": null, "orient": "none", "legendX": 284, "legendY": 3, "rowPadding": 6, "encode": {"labels": {"update": {"fontStyle": {"signal": "datum.label === 'Col-0' ? 'normal' : 'italic'"}}}}}}}},
      {"data": {"name": "er"}, "transform": [{"filter": "datum.s == 'Col-0'"}], "mark": {"type": "rule", "color": "#000", "xOffset": -24.84}, "encoding": {"y": {"field": "lo", "type": "quantitative"}, "y2": {"field": "hi"}}},
      {"data": {"name": "er"}, "transform": [{"filter": "datum.s == 'aos'"}], "mark": {"type": "rule", "color": "#000", "xOffset": -8.28}, "encoding": {"y": {"field": "lo", "type": "quantitative"}, "y2": {"field": "hi"}}},
      {"data": {"name": "er"}, "transform": [{"filter": "datum.s == 'coi1-1'"}], "mark": {"type": "rule", "color": "#000", "xOffset": 8.28}, "encoding": {"y": {"field": "lo", "type": "quantitative"}, "y2": {"field": "hi"}}},
      {"data": {"name": "er"}, "transform": [{"filter": "datum.s == 'sid2'"}], "mark": {"type": "rule", "color": "#000", "xOffset": 24.84}, "encoding": {"y": {"field": "lo", "type": "quantitative"}, "y2": {"field": "hi"}}},
      {"data": {"name": "er"}, "transform": [{"filter": "datum.s == 'Col-0'"}, {"fold": ["lo", "hi"], "as": ["k", "e"]}], "mark": {"type": "tick", "color": "#000", "size": 8, "thickness": 1, "xOffset": -24.84}, "encoding": {"y": {"field": "e", "type": "quantitative"}}},
      {"data": {"name": "er"}, "transform": [{"filter": "datum.s == 'aos'"}, {"fold": ["lo", "hi"], "as": ["k", "e"]}], "mark": {"type": "tick", "color": "#000", "size": 8, "thickness": 1, "xOffset": -8.28}, "encoding": {"y": {"field": "e", "type": "quantitative"}}},
      {"data": {"name": "er"}, "transform": [{"filter": "datum.s == 'coi1-1'"}, {"fold": ["lo", "hi"], "as": ["k", "e"]}], "mark": {"type": "tick", "color": "#000", "size": 8, "thickness": 1, "xOffset": 8.28}, "encoding": {"y": {"field": "e", "type": "quantitative"}}},
      {"data": {"name": "er"}, "transform": [{"filter": "datum.s == 'sid2'"}, {"fold": ["lo", "hi"], "as": ["k", "e"]}], "mark": {"type": "tick", "color": "#000", "size": 8, "thickness": 1, "xOffset": 24.84}, "encoding": {"y": {"field": "e", "type": "quantitative"}}},
      {"data": {"name": "erb1"}, "mark": {"type": "tick", "color": "#000", "size": 18, "thickness": 1, "xOffset": -15}, "encoding": {"y": {"field": "top", "type": "quantitative"}}},
      {"data": {"name": "erb1"}, "mark": {"type": "rule", "color": "#000", "xOffset": -24}, "encoding": {"y": {"field": "bot", "type": "quantitative"}, "y2": {"field": "top"}}},
      {"data": {"name": "erb1"}, "mark": {"type": "rule", "color": "#000", "xOffset": -6}, "encoding": {"y": {"field": "bot", "type": "quantitative"}, "y2": {"field": "top"}}},
      {"data": {"name": "erb1"}, "mark": {"type": "text", "dx": -15, "fontSize": 16, "baseline": "alphabetic"}, "encoding": {"y": {"field": "ts", "type": "quantitative"}, "text": {"field": "t"}}},
      {"data": {"name": "erb2"}, "mark": {"type": "tick", "color": "#000", "size": 33, "thickness": 1, "xOffset": -7.5}, "encoding": {"y": {"field": "top", "type": "quantitative"}}},
      {"data": {"name": "erb2"}, "mark": {"type": "rule", "color": "#000", "xOffset": -24}, "encoding": {"y": {"field": "bot", "type": "quantitative"}, "y2": {"field": "top"}}},
      {"data": {"name": "erb2"}, "mark": {"type": "rule", "color": "#000", "xOffset": 9}, "encoding": {"y": {"field": "bot", "type": "quantitative"}, "y2": {"field": "top"}}},
      {"data": {"name": "erb2"}, "mark": {"type": "text", "dx": -7.5, "fontSize": 16, "baseline": "alphabetic"}, "encoding": {"y": {"field": "ts", "type": "quantitative"}, "text": {"field": "t"}}}
     ]
    }
   ]
  }
 ],
 "config": {
  "font": "Liberation Sans",
  "background": "#ffffff",
  "view": {"stroke": "#5a5a5a", "strokeWidth": 1},
  "axis": {"labelFontSize": 16, "labelColor": "#000", "titleFontSize": 16, "titleFontWeight": "bold", "titleColor": "#000", "domainColor": "#5a5a5a", "tickColor": "#5a5a5a", "tickSize": 5, "labelPadding": 5, "grid": false, "labelFont": "Liberation Sans", "titleFont": "Liberation Sans"},
  "legend": {"labelFontSize": 16, "titleFontSize": 16, "titleFontWeight": "normal", "titleColor": "#000", "labelColor": "#000", "symbolType": "square", "symbolSize": 110, "symbolStrokeColor": "#262626", "symbolStrokeWidth": 1, "labelOffset": 3, "titlePadding": 2, "labelFont": "Liberation Sans", "titleFont": "Liberation Sans"},
  "title": {"fontSize": 20, "fontWeight": "bold", "anchor": "start", "frame": "group", "color": "#000", "font": "Liberation Sans"}
 }
}
